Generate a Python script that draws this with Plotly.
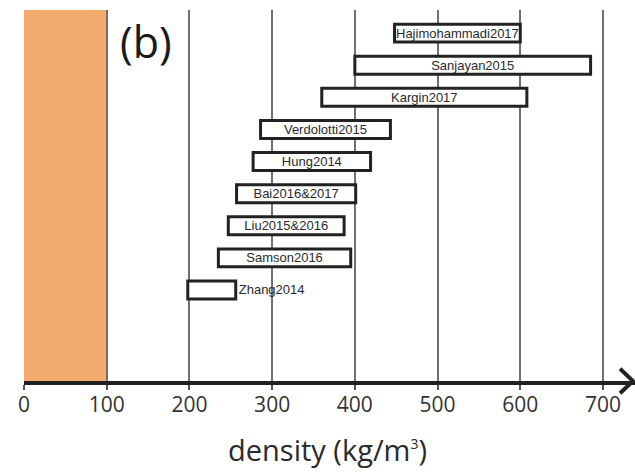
import plotly.graph_objects as go

# ---- data ----
studies = ["Zhang2014", "Samson2016", "Liu2015&2016", "Bai2016&2017", "Hung2014",
           "Verdolotti2015", "Kargin2017", "Sanjayan2015", "Hajimohammadi2017"]
density_low = [198, 235, 247, 257, 277, 286, 360, 400, 448]
density_high = [256, 395, 387, 401, 419, 443, 608, 685, 600]
aerogel_range = [0, 100]
tick_values = [0, 100, 200, 300, 400, 500, 600, 700]
tick_labels = ["0", "100", "200", "300", "400", "500", "600", "700"]
panel_label = "(b)"
x_title = "density (kg/m<sup><span style='font-size:14px'>3</span></sup>)"

positions = list(range(len(studies)))
widths = [h - l for l, h in zip(density_low, density_high)]
text_pos = ["outside" if s == "Zhang2014" else "inside" for s in studies]

fig = go.Figure()
fig.add_trace(go.Bar(
    orientation="h",
    y=positions,
    x=widths,
    base=density_low,
    width=0.56,
    marker=dict(color="white", line=dict(color="#222222", width=3)),
    text=studies,
    textposition=text_pos,
    insidetextanchor="middle",
    textangle=0,
    constraintext="none",
    insidetextfont=dict(family="Liberation Sans, Arial", size=13, color="#2a2a2a"),
    outsidetextfont=dict(family="Liberation Sans, Arial", size=13, color="#2a2a2a"),
    cliponaxis=False,
    showlegend=False,
    hoverinfo="skip",
))

# orange reference band
fig.add_shape(type="rect", xref="x", yref="paper",
              x0=aerogel_range[0], x1=aerogel_range[1], y0=0, y1=1,
              fillcolor="#F4AB6E", line=dict(width=0), layer="below")

# arrow head on axis
fig.add_shape(type="path", xref="paper", yref="paper",
              path="M 0.9755,0.033 L 0.9967,0 L 0.9755,-0.033",
              line=dict(color="#222222", width=4))

fig.add_annotation(text=panel_label, xref="paper", yref="paper",
                   x=0.2, y=0.915, xanchor="center", yanchor="middle",
                   showarrow=False,
                   font=dict(family="Open Sans", size=43, color="#1a1a1a"))

fig.add_annotation(text=x_title, xref="paper", yref="paper",
                   x=0.496, y=-0.185, xanchor="center", yanchor="middle",
                   showarrow=False,
                   font=dict(family="Open Sans", size=29, color="#2a2a2a"))

fig.update_layout(
    width=635, height=473,
    margin=dict(l=24, r=0, t=10, b=92),
    paper_bgcolor="white", plot_bgcolor="white",
    xaxis=dict(range=[0, 738.7], tickvals=tick_values, ticktext=tick_labels,
               showgrid=True, gridcolor="#707070", gridwidth=1.5,
               showline=True, linecolor="#222222", linewidth=4,
               ticks="outside", ticklen=5, tickwidth=1.5, tickcolor="#555555",
               ticklabelstandoff=-3,
               tickfont=dict(family="Open Sans", size=21, color="#333333"),
               zeroline=False, fixedrange=True),
    yaxis=dict(range=[-2.835, 8.72], showgrid=False, showticklabels=False,
               zeroline=False, showline=False, ticks="", fixedrange=True),
)

fig.write_html("out.html")
